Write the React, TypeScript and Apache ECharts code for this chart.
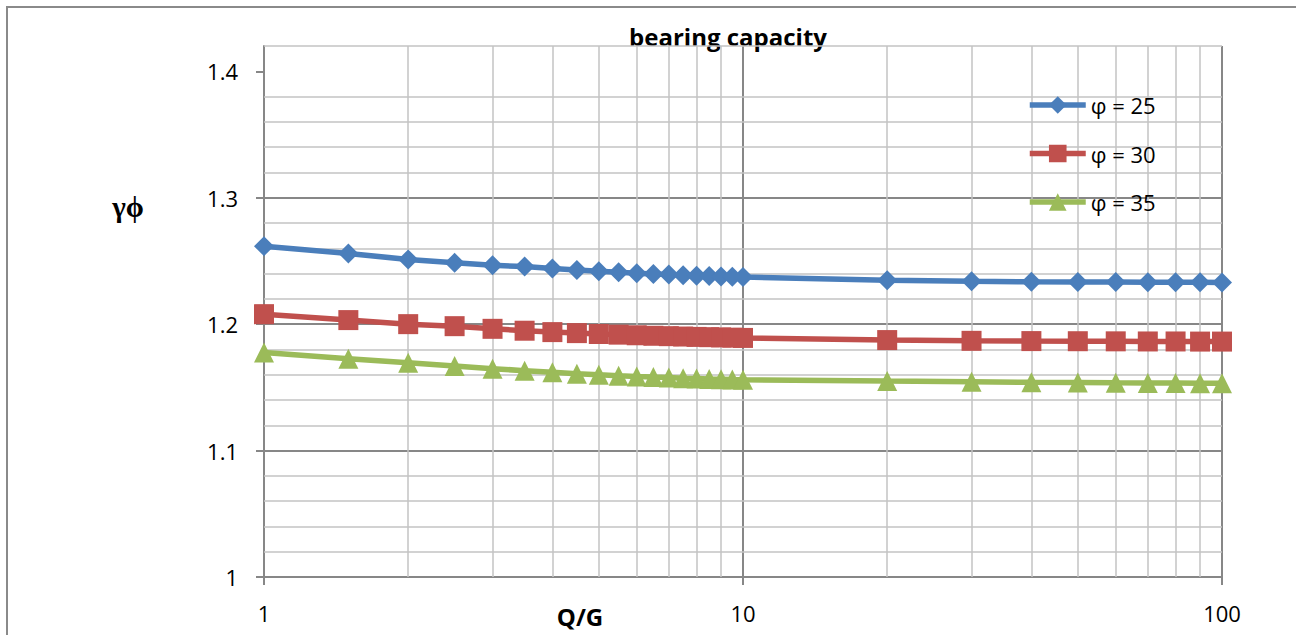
import React, { useEffect, useRef } from "react";
import * as echarts from "echarts";

const qg = [1, 1.5, 2, 2.5, 3, 3.5, 4, 4.5, 5, 5.5, 6, 6.5, 7, 7.5, 8, 8.5, 9, 9.5, 10, 20, 30, 40, 50, 60, 70, 80, 90, 100];
const phi25 = [1.2617, 1.2559, 1.2512, 1.2485, 1.2465, 1.2455, 1.244, 1.2428, 1.2418, 1.241, 1.2403, 1.2397, 1.2392, 1.2387, 1.2383, 1.238, 1.2377, 1.2374, 1.2372, 1.2348, 1.234, 1.2335, 1.2334, 1.2333, 1.2332, 1.2331, 1.2331, 1.233];
const phi30 = [1.2079, 1.2032, 1.2, 1.1984, 1.1963, 1.1948, 1.1937, 1.1929, 1.1922, 1.1917, 1.1912, 1.1908, 1.1905, 1.1902, 1.1899, 1.1897, 1.1895, 1.1893, 1.1891, 1.1874, 1.1868, 1.1866, 1.1865, 1.1864, 1.1863, 1.1863, 1.1862, 1.1862];
const phi35 = [1.1775, 1.1727, 1.1694, 1.1668, 1.1648, 1.1632, 1.1619, 1.1608, 1.1599, 1.1592, 1.1586, 1.1581, 1.1577, 1.1573, 1.157, 1.1567, 1.1565, 1.1562, 1.156, 1.155, 1.1545, 1.154, 1.1538, 1.1536, 1.1535, 1.1534, 1.1533, 1.1533];
const seriesNames = ["φ = 25", "φ = 30", "φ = 35"];
const xMinorGrid = [2, 3, 4, 5, 6, 7, 8, 9, 20, 30, 40, 50, 60, 70, 80, 90];
const yMinorGrid = [1.02, 1.04, 1.06, 1.08, 1.12, 1.14, 1.16, 1.18, 1.22, 1.24, 1.26, 1.28, 1.32, 1.34, 1.36, 1.38, 1.42];
const yMajorTicks = [1, 1.1, 1.2, 1.3, 1.4];

const FONT = "'Open Sans', 'Liberation Sans', sans-serif";
const MAJOR = "#878787";
const MINOR = "#c3c3c3";

export default function App() {
  const ref = useRef<HTMLDivElement>(null);
  useEffect(() => {
    if (!ref.current) return;
    const chart = echarts.init(ref.current, undefined, { renderer: "svg" });
    const mk = (vals: number[]) => qg.map((x, i) => [x, vals[i]]);
    const lineSeries = (name: string, vals: number[], color: string, symbol: string) => ({
      name,
      type: "line",
      data: mk(vals),
      symbol,
      symbolSize: 20,
      showAllSymbol: true,
      z: 3,
      lineStyle: { color, width: 5.5 },
      itemStyle: { color },
      emphasis: { disabled: true },
    });
    chart.setOption({
      animation: false,
      backgroundColor: "#ffffff",
      grid: { left: 264, top: 46, right: 74, bottom: 58, containLabel: false },
      legend: {
        left: 1027,
        top: 94,
        padding: 0,
        orient: "vertical",
        itemWidth: 56,
        itemHeight: 22,
        itemGap: 26.5,
        data: seriesNames,
        lineStyle: { width: 5.5 },
        textStyle: { fontFamily: FONT, fontSize: 22, color: "#000", lineHeight: 22 },
        selectedMode: false,
      },
      xAxis: {
        type: "log",
        logBase: 10,
        min: 1,
        max: 100,
        axisLine: { show: true, lineStyle: { color: MAJOR, width: 2 } },
        axisTick: { show: true, length: 8, lineStyle: { color: MAJOR, width: 2 } },
        axisLabel: { fontFamily: FONT, fontSize: 22, color: "#000", margin: 25 },
        splitLine: { show: true, lineStyle: { color: MAJOR, width: 2 } },
        minorTick: { show: false },
        minorSplitLine: { show: false },
      },
      yAxis: {
        type: "value",
        min: 1,
        max: 1.42,
        interval: 0.1,
        axisLine: { show: true, lineStyle: { color: MAJOR, width: 2 } },
        axisTick: { show: true, length: 8, customValues: yMajorTicks, lineStyle: { color: MAJOR, width: 2 } },
        axisLabel: { fontFamily: FONT, fontSize: 22, color: "#000", margin: 26, showMaxLabel: false },
        splitLine: { show: true, showMaxLine: false, lineStyle: { color: MAJOR, width: 2 } },
      },
      graphic: [
        {
          type: "rect",
          shape: { x: 7, y: 7, width: 1400, height: 1000 },
          style: { fill: "none", stroke: "#8a8a8a", lineWidth: 2 },
          silent: true,
          z: -1,
        },
        {
          type: "text",
          x: 728,
          y: 36,
          style: { text: "bearing capacity", fontFamily: FONT, fontSize: 24, fontWeight: "bold", fill: "#000", align: "center", verticalAlign: "middle" },
        },
        {
          type: "text",
          x: 580,
          y: 616,
          style: { text: "Q/G", fontFamily: FONT, fontSize: 24, fontWeight: "bold", fill: "#000", align: "center", verticalAlign: "middle" },
        },
        {
          type: "text",
          x: 128,
          y: 207,
          style: { text: "γϕ", fontFamily: "'Liberation Serif', 'DejaVu Serif', serif", fontSize: 29, fontWeight: "bold", fill: "#000", align: "center", verticalAlign: "middle" },
        },
      ],
      series: [
        {
          name: "grid",
          type: "line",
          data: [],
          z: 1,
          silent: true,
          markLine: {
            silent: true,
            z: 1,
            symbol: ["none", "none"],
            label: { show: false },
            emphasis: { disabled: true },
            lineStyle: { color: MINOR, width: 1.5, type: "solid" },
            data: [...xMinorGrid.map((v) => ({ xAxis: v })), ...yMinorGrid.map((v) => ({ yAxis: v }))],
          },
        },
        lineSeries(seriesNames[0], phi25, "#4a7ebb", "diamond"),
        lineSeries(seriesNames[1], phi30, "#c0504d", "rect"),
        lineSeries(seriesNames[2], phi35, "#9bbb59", "triangle"),
      ],
    });
    return () => chart.dispose();
  }, []);
  return (
    <div
      ref={ref}
      style={{ position: "fixed", left: 0, top: 0, width: 1296, height: 635, background: "#fff" }}
    />
  );
}
